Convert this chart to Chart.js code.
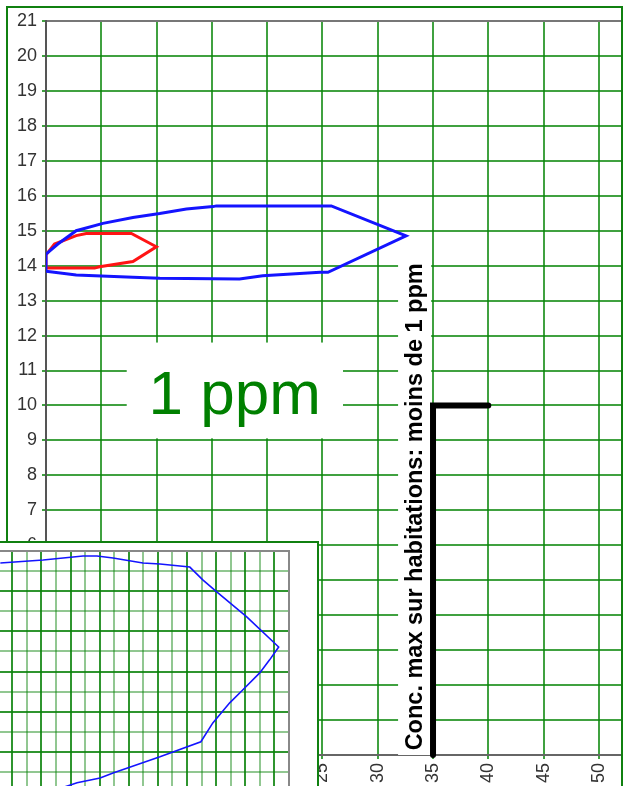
<!DOCTYPE html>
<html>
<head>
<meta charset="utf-8">
<script src="https://cdn.jsdelivr.net/npm/chart.js@4.4.1/dist/chart.umd.min.js"></script>
<style>
  html, body { margin: 0; padding: 0; background: #fff; overflow: hidden; width: 625px; height: 786px; }
  #main { position: absolute; left: 0; top: 0; }
  #frame { position: absolute; left: 6px; top: 6px; width: 613px; height: 820px; border: 2px solid #108010; }
  #inset { position: absolute; left: -48px; top: 541px; width: 363px; height: 249px; border: 2px solid #108010; background: #fff; }
</style>
</head>
<body>
<canvas id="main" width="625" height="786"></canvas>
<div id="frame"></div>
<div id="inset"><canvas id="insetChart" width="363" height="249"></canvas></div>
<script>
// axes
const xTickValues = [0, 5, 10, 15, 20, 25, 30, 35, 40, 45, 50];
const yTickValues = [0, 1, 2, 3, 4, 5, 6, 7, 8, 9, 10, 11, 12, 13, 14, 15, 16, 17, 18, 19, 20, 21];

// contour 1 ppm (bleu)
const blueX = [0, 1.07, 2.73, 5.15, 7.86, 10.28, 12.7, 15.1, 15.4, 25.8, 32.56, 25.5, 24.8, 19.6, 17.5, 10.28, 7.86, 2.73, 0, 0];
const blueY = [14.33, 14.62, 15.0, 15.21, 15.38, 15.49, 15.62, 15.69, 15.71, 15.71, 14.85, 13.81, 13.81, 13.71, 13.62, 13.64, 13.67, 13.73, 13.84, 14.33];

// contour rouge
const redX = [0, 0.77, 2.73, 3.64, 7.72, 9.98, 7.86, 4.85, 4.39, 0, 0];
const redY = [14.31, 14.62, 14.86, 14.92, 14.92, 14.54, 14.12, 13.97, 13.93, 13.93, 14.31];

// repère habitations
const markX = [35, 35, 40];
const markY = [0, 10, 10];

// encart (zoom)
const insetX = [-0.82, 2.12, 4.86, 5.82, 6.92, 8.97, 10.14, 12.19, 13.08, 14.04, 16.1, 18.29, 17.67, 16.99, 15.82, 14.93, 13.77, 12.95, 10.14, 6.92, 6.03, 4.45, 3.84, 2.5];
const insetY = [11.4, 11.55, 11.75, 11.75, 11.65, 11.4, 11.35, 11.2, 10.56, 9.96, 8.72, 7.22, 6.58, 5.93, 5.08, 4.44, 3.44, 2.5, 1.75, 0.95, 0.7, 0.46, 0.31, 0];

const ppmLabel = '1 ppm';
const noteLabel = 'Conc. max sur habitations: moins de 1 ppm';

const toPoints = (xs, ys) => xs.map((v, i) => ({ x: v, y: ys[i] }));
const gridGreen = 'rgba(10,135,10,0.78)';
const tickFont = { family: 'Liberation Sans, Arial, sans-serif', size: 18 };

// étiquettes avec fond blanc
const annot = {
  id: 'annot',
  beforeDatasetsDraw(chart) {
    const { ctx, scales: { x, y } } = chart;
    ctx.save();
    ctx.fillStyle = '#fff';
    // boîte "1 ppm"
    let x0 = x.getPixelForValue(7.3), x1 = x.getPixelForValue(26.86);
    let y0 = y.getPixelForValue(11.8), y1 = y.getPixelForValue(9.06);
    ctx.fillRect(x0, y0, x1 - x0, y1 - y0);
    ctx.fillStyle = '#008000';
    ctx.font = '62px Liberation Sans, Arial, sans-serif';
    ctx.textAlign = 'center';
    ctx.textBaseline = 'alphabetic';
    ctx.fillText(ppmLabel, x.getPixelForValue(17.07), y.getPixelForValue(9.77));

    // texte vertical
    ctx.fillStyle = '#fff';
    x0 = x.getPixelForValue(31.84); x1 = x.getPixelForValue(34.83);
    y0 = y.getPixelForValue(14.3); y1 = y.getPixelForValue(0);
    ctx.fillRect(x0, y0, x1 - x0, y1 - y0);
    ctx.translate(x.getPixelForValue(34.0), y.getPixelForValue(7.1));
    ctx.rotate(-Math.PI / 2);
    ctx.fillStyle = '#000';
    ctx.font = 'bold 23.5px Liberation Sans, Arial, sans-serif';
    ctx.fillText(noteLabel, 0, 0);
    ctx.restore();
  }
};

new Chart(document.getElementById('main'), {
  type: 'scatter',
  data: {
    datasets: [
      { data: toPoints(blueX, blueY), showLine: true, borderColor: '#1414ff', borderWidth: 3, pointRadius: 0 },
      { data: toPoints(redX, redY), showLine: true, borderColor: '#ff1414', borderWidth: 3, pointRadius: 0 },
      { data: toPoints(markX, markY), showLine: true, borderColor: '#000', borderWidth: 6, pointRadius: 0, borderCapStyle: 'round', clip: false }
    ]
  },
  options: {
    responsive: false,
    animation: false,
    layout: { padding: { top: 21, right: 4, left: 0, bottom: 0 } },
    plugins: { legend: { display: false }, tooltip: { enabled: false } },
    scales: {
      x: {
        type: 'linear', min: 0, max: 52, position: 'bottom',
        afterBuildTicks: s => { s.ticks = xTickValues.map(v => ({ value: v })); },
        afterFit: s => { s.height = 31; },
        grid: { color: gridGreen, lineWidth: 2, tickLength: 4 },
        border: { color: '#666', width: 2 },
        ticks: { minRotation: 90, maxRotation: 90, color: '#333', font: tickFont, padding: 4 }
      },
      x2: {
        type: 'linear', min: 0, max: 52, position: 'top',
        afterFit: s => { s.height = 0; },
        grid: { display: false },
        ticks: { display: false },
        border: { color: '#777', width: 2 }
      },
      y: {
        type: 'linear', min: 0, max: 21,
        afterBuildTicks: s => { s.ticks = yTickValues.map(v => ({ value: v })); },
        afterFit: s => { s.width = 46; },
        grid: { color: gridGreen, lineWidth: 2, tickLength: 4 },
        border: { color: '#555', width: 2 },
        ticks: { color: '#333', font: tickFont, padding: 5 }
      }
    }
  },
  plugins: [annot]
});

// encart
const insetGrid = c => (c.tick && c.tick.value % 2 === 0 ? 'rgba(10,130,10,0.85)' : 'rgba(10,130,10,0.45)');
new Chart(document.getElementById('insetChart'), {
  type: 'scatter',
  data: {
    datasets: [
      { data: toPoints(insetX, insetY), showLine: true, borderColor: '#1414ff', borderWidth: 1.6, pointRadius: 0 }
    ]
  },
  options: {
    responsive: false,
    animation: false,
    layout: { padding: { top: 8, right: 28, left: 0, bottom: 0 } },
    plugins: { legend: { display: false }, tooltip: { enabled: false } },
    scales: {
      x: {
        type: 'linear', min: -4, max: 19, position: 'top',
        afterFit: s => { s.height = 0; },
        ticks: { display: false, stepSize: 1 },
        grid: { drawTicks: false, lineWidth: 2, color: insetGrid },
        border: { color: '#888', width: 2 }
      },
      y: {
        type: 'linear', min: 0, max: 12, position: 'right',
        afterFit: s => { s.width = 0; },
        ticks: { display: false, stepSize: 1 },
        grid: { drawTicks: false, lineWidth: 2, color: insetGrid },
        border: { color: '#888', width: 2 }
      }
    }
  }
});
</script>
</body>
</html>
